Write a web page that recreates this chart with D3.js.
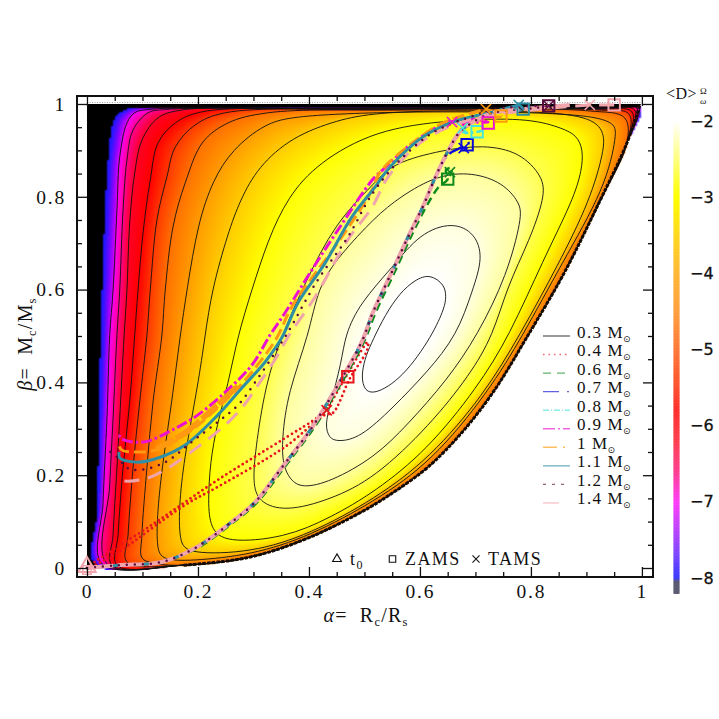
<!DOCTYPE html>
<html><head><meta charset="utf-8">
<style>html,body{margin:0;background:#fff}svg{display:block}text{fill:#111}</style>
<script src="https://cdn.jsdelivr.net/npm/d3@7/dist/d3.min.js"></script></head>
<body><script>
// ---------- axes / labels ----------
const xMajor=[0,0.2,0.4,0.6,0.8,1];
const yMajor=[0,0.2,0.4,0.6,0.8,1];
const minorTicks=[0.05,0.1,0.15,0.25,0.3,0.35,0.45,0.5,0.55,0.65,0.7,0.75,0.85,0.9,0.95];
const barTicks=[-2,-3,-4,-5,-6,-7,-8];
const massLabels=["0.3","0.4","0.6","0.7","0.8","0.9","1","1.1","1.2","1.4"];
const massColors=["#222222","#e8141c","#0f8a1c","#0a0ad8","#45e6dc","#ee10d0","#ff9a10","#2f8fa5","#5a0a3c","#f0a5ac"];
const legendDash=["","1.5 4","8 6","16 8 2 8","6 2 1 2","12 3 2 3","14 6 2 6","","3 6","16 20"];
// ---------- colour scale ----------
const stopValues=[-8.0,-7.5,-7.2,-6.9,-6.5,-6.0,-5.5,-5.0,-4.5,-4.0,-3.5,-3.0,-2.3,-2.0,-1.7,-1.5];
const stopColors=["#1818ff","#4a10ff","#a000ff","#ff00e8","#ff0090","#ff0028","#ff0000","#ff3800","#ff7000","#ff9c00","#ffcc00","#ffff00","#ffff50","#ffffa0","#ffffe0","#ffffff"];
const barValues=[-8.2,-8.05,-8.0,-7.6,-7.0,-6.6,-6.2,-5.8,-5.4,-5.0,-4.5,-4.0,-3.5,-3.0,-2.5,-2.0];
const barColors=["#5a5a70","#5a5a70","#3c3cff","#9048ff","#ff40f8","#ff4090","#ff4050","#ff3030","#ff5a30","#ff7a3a","#ffa040","#ffb838","#ffd820","#ffff00","#ffff80","#ffffff"];
// ---------- lower edge of the domain ----------
const rimAlpha=[0.973,0.919,0.860,0.795,0.732,0.672,0.613,0.551,0.492,0.389,0.288,0.173];
const rimBeta =[0.916,0.778,0.636,0.502,0.379,0.287,0.216,0.162,0.119,0.060,0.022,0.006];
// ---------- contour lines ----------
const levelM8A=[0.014,0.018,0.023,0.027,0.031,0.038,0.049,0.068,0.095,0.384,0.996];
const levelM8B=[0.009,0.121,0.431,0.599,0.728,0.879,0.966,0.987,0.991,0.994,0.996];
const levelM75A=[0.020,0.023,0.027,0.032,0.034,0.041,0.047,0.059,0.077,0.105,0.384,0.951,0.996];
const levelM75B=[0.009,0.142,0.323,0.502,0.599,0.793,0.901,0.970,0.987,0.991,0.993,0.995,0.996];
const levelM7A=[0.027,0.029,0.036,0.041,0.047,0.054,0.059,0.072,0.086,0.110,0.384,0.942,0.994];
const levelM7B=[0.009,0.142,0.323,0.502,0.599,0.772,0.886,0.959,0.981,0.988,0.991,0.993,0.994];
const levelM65A=[0.036,0.041,0.047,0.054,0.059,0.065,0.072,0.083,0.110,0.141,0.420,0.933,0.991];
const levelM65B=[0.009,0.179,0.323,0.502,0.599,0.772,0.879,0.944,0.981,0.988,0.990,0.991,0.991];
const levelM6A=[0.045,0.047,0.054,0.059,0.067,0.072,0.077,0.086,0.099,0.128,0.171,0.456,0.924,0.987];
const levelM6B=[0.006,0.071,0.216,0.323,0.502,0.599,0.744,0.851,0.922,0.970,0.987,0.989,0.990,0.987];
const levelM55A=[0.054,0.056,0.065,0.077,0.086,0.092,0.101,0.114,0.128,0.159,0.207,0.492,0.924,0.982];
const levelM55B=[0.006,0.071,0.216,0.358,0.502,0.599,0.722,0.836,0.916,0.959,0.983,0.989,0.989,0.983];
const levelM5A=[0.072,0.074,0.083,0.095,0.108,0.114,0.126,0.144,0.159,0.195,0.249,0.528,0.924,0.977];
const levelM5B=[0.013,0.071,0.216,0.358,0.502,0.599,0.750,0.843,0.907,0.955,0.981,0.988,0.987,0.978];
const levelM45A=[0.117,0.099,0.099,0.108,0.119,0.135,0.141,0.155,0.177,0.209,0.254,0.326,0.564,0.906,0.969];
const levelM45B=[0.011,0.022,0.071,0.216,0.358,0.502,0.599,0.735,0.830,0.918,0.959,0.981,0.987,0.985,0.970];
const levelM4A=[0.135,0.126,0.126,0.135,0.153,0.168,0.180,0.200,0.227,0.261,0.321,0.380,0.600,0.888,0.951,0.955,0.935,0.854,0.786,0.723,0.622,0.519,0.402,0.297,0.186];
const levelM4B=[0.017,0.043,0.108,0.216,0.358,0.502,0.599,0.744,0.836,0.901,0.959,0.976,0.985,0.981,0.961,0.937,0.821,0.653,0.502,0.379,0.230,0.144,0.069,0.028,0.015];
const levelM35A=[0.166,0.166,0.177,0.200,0.213,0.225,0.254,0.276,0.308,0.369,0.452,0.519,0.654,0.852,0.915,0.932,0.932,0.907,0.849,0.780,0.715,0.618,0.519,0.402,0.297,0.182];
const levelM35B=[0.056,0.142,0.250,0.394,0.502,0.599,0.722,0.793,0.864,0.929,0.966,0.981,0.987,0.983,0.966,0.937,0.901,0.793,0.653,0.502,0.373,0.237,0.149,0.073,0.033,0.030];
const levelM3A=[0.218,0.222,0.234,0.254,0.272,0.297,0.326,0.362,0.416,0.519,0.654,0.793,0.852,0.883,0.894,0.892,0.876,0.822,0.762,0.703,0.613,0.519,0.438,0.357,0.249,0.222];
const levelM3B=[0.142,0.228,0.308,0.394,0.502,0.599,0.707,0.800,0.873,0.944,0.966,0.970,0.950,0.933,0.901,0.858,0.793,0.664,0.502,0.388,0.254,0.164,0.108,0.065,0.054,0.086];
const levelM23A=[0.299,0.303,0.321,0.351,0.393,0.447,0.519,0.551,0.641,0.714,0.780,0.822,0.825,0.798,0.757,0.732,0.690,0.618,0.519,0.438,0.357,0.308];
const levelM23B=[0.185,0.250,0.394,0.502,0.614,0.744,0.830,0.873,0.901,0.912,0.897,0.843,0.800,0.707,0.606,0.502,0.416,0.308,0.194,0.147,0.121,0.142];
const levelM2A=[0.351,0.353,0.366,0.387,0.438,0.519,0.577,0.649,0.704,0.757,0.784,0.780,0.750,0.695,0.631,0.564,0.519,0.456,0.416,0.400,0.362];
const levelM2B=[0.276,0.222,0.190,0.172,0.185,0.239,0.308,0.405,0.502,0.631,0.756,0.787,0.830,0.853,0.847,0.800,0.756,0.675,0.606,0.502,0.379];
const levelM17A=[0.429,0.436,0.452,0.492,0.551,0.613,0.667,0.695,0.714,0.699,0.659,0.600,0.551,0.492,0.465,0.459,0.438];
const levelM17B=[0.308,0.280,0.272,0.280,0.345,0.422,0.502,0.599,0.670,0.722,0.746,0.722,0.649,0.571,0.502,0.444,0.351];
const levelM15A=[0.618,0.645,0.647,0.645,0.623,0.569,0.515,0.497,0.495,0.503,0.515,0.537,0.564,0.591];
const levelM15B=[0.634,0.610,0.584,0.563,0.502,0.409,0.371,0.388,0.422,0.459,0.491,0.545,0.593,0.621];
const contourLevels=[-8,-7.5,-7,-6.5,-6,-5.5,-5,-4.5,-4,-3.5,-3,-2.3,-2,-1.7,-1.5];
const contourHidden=[true,true];
// ---------- evolutionary tracks ----------
const risingAlpha=[0,0.056,0.135,0.195,0.254,0.303,0.351,0.405,0.452,0.495,0.515,0.551,0.582,0.605,0.627,0.650,0.672,0.703,0.732,0.804,0.870];
const risingBeta =[0,0.006,0.013,0.043,0.093,0.142,0.216,0.302,0.394,0.487,0.550,0.642,0.722,0.778,0.840,0.897,0.940,0.966,0.981,0.991,0.998];
const risingCount=[11,0,0,15,17,17,18,19,20,21];
const track04Alpha=[0,0.014,0.117,0.236,0.357,0.416,0.432,0.465,0.506,0.505,0.474,0.443,0.429,0.357,0.236,0.177,0.056,0.005];
const track04Beta =[0,0.013,0.093,0.190,0.280,0.325,0.343,0.409,0.487,0.470,0.409,0.334,0.330,0.261,0.175,0.136,0.034,0];
const track06Alpha=[0,0.056,0.135,0.199,0.258,0.307,0.355,0.409,0.456,0.499,0.520,0.556,0.587,0.611,0.633,0.650,0.647,0.658,0.654];
const track06Beta =[0,0.006,0.013,0.043,0.093,0.142,0.216,0.302,0.394,0.487,0.550,0.642,0.722,0.778,0.820,0.838,0.858,0.862,0.845];
const tail07Alpha=[0.650,0.676,0.690,0.681]; const tail07Beta=[0.890,0.907,0.916,0.901];
const tail08Alpha=[0.685,0.712,0.703];       const tail08Beta=[0.9375,0.942,0.940];
const tail09Alpha=[0.685,0.723,0.658];       const tail09Beta=[0.966,0.961,0.961];
const tail10Alpha=[0.746,0.719];             const tail10Beta=[0.974,0.989];
const tail11Alpha=[0.786,0.778];             const tail11Beta=[0.989,0.998];
const tail12Alpha=[0.832];                   const tail12Beta=[0.996];
const tail14Alpha=[0.950,0.906];             const tail14Beta=[0.998,0.998];
const upper09Alpha=[0.649,0.587,0.533,0.514,0.452,0.405,0.357,0.330,0.297,0.249,0.200,0.153,0.105,0.072,0.059,0.063];
const upper09Beta =[0.961,0.916,0.858,0.836,0.728,0.642,0.550,0.502,0.437,0.379,0.330,0.297,0.272,0.274,0.282,0.293];
const upper10Alpha=[0.719,0.641,0.587,0.528,0.514,0.459,0.369,0.342,0.297,0.254,0.177,0.123,0.086,0.063,0.056];
const upper10Beta =[0.989,0.959,0.916,0.853,0.815,0.713,0.5625,0.496,0.422,0.366,0.287,0.254,0.250,0.254,0.269];
const blob10Alpha=[0.125,0.177,0.254,0.272]; const blob10Beta=[0.256,0.292,0.372,0.392];
const upper11Alpha=[0.778,0.732,0.659,0.605,0.546,0.519,0.477,0.429,0.380,0.351,0.321,0.279,0.236,0.177,0.128,0.092,0.059,0.058];
const upper11Beta =[0.998,0.983,0.961,0.929,0.864,0.821,0.756,0.657,0.571,0.496,0.444,0.388,0.330,0.265,0.237,0.228,0.237,0.250];
const upper12Alpha=[0.832,0.750,0.690,0.623,0.564,0.515,0.470,0.416,0.357,0.308,0.272,0.236,0.189,0.141,0.092,0.072,0.056,0.032];
const upper12Beta =[0.996,0.991,0.972,0.938,0.879,0.808,0.713,0.621,0.498,0.409,0.351,0.315,0.272,0.228,0.211,0.216,0.237,0.259];
const upper14Alpha=[0.906,0.703,0.622,0.582,0.541,0.514,0.470,0.411,0.362,0.344,0.308,0.279,0.249,0.200,0.146,0.110,0.068,0.052];
const upper14Beta =[0.998,0.970,0.933,0.897,0.840,0.778,0.707,0.584,0.498,0.459,0.394,0.345,0.308,0.261,0.2155,0.194,0.1875,0.194];
// markers
const zamsAlpha=[0.470,0.650,0.685,0.703,0.723,0.746,0.786,0.832,0.950];
const zamsBeta =[0.412,0.838,0.912,0.940,0.959,0.974,0.989,0.996,0.998];
const tamsAlpha=[0.432,0.654,0.679,0.677,0.658,0.719,0.778,0.832,0.906];
const tamsBeta =[0.340,0.853,0.905,0.948,0.961,0.989,0.998,0.996,0.998];
const markerMass=[1,2,3,4,5,6,7,8,9]; // index into massColors

// ---------- layout ----------
const W=719,H=719;
const x=d3.scaleLinear().domain([-0.018,1.02]).range([77,653]);
const y=d3.scaleLinear().domain([-0.0194,1.0172]).range([577,96]);
const svg=d3.select("body").append("svg").attr("width",W).attr("height",H);
const color=d3.scaleLinear().domain(stopValues).range(stopColors).clamp(true);
const barColor=d3.scaleLinear().domain(barValues).range(barColors).clamp(true);
const line=d3.line().x(d=>x(d[0])).y(d=>y(d[1]));
const zip=(a,b)=>a.map((v,i)=>[v,b[i]]);
const rim=zip(rimAlpha,rimBeta);

// black domain behind the raster
svg.append("path").attr("fill","#000")
  .attr("d",line([[0,1],[0.998,1],[0.996,0.996],...rim,[0.08,0],[0,0]])+"Z");

// contours
const contourData=[
 [levelM8A,levelM8B,true],[levelM75A,levelM75B,true],[levelM7A,levelM7B,true],
 [levelM65A,levelM65B,true],[levelM6A,levelM6B,true],[levelM55A,levelM55B,true],
 [levelM5A,levelM5B,true],[levelM45A,levelM45B,true],[levelM4A,levelM4B,false],
 [levelM35A,levelM35B,false],[levelM3A,levelM3B,false],[levelM23A,levelM23B,false],
 [levelM2A,levelM2B,false],[levelM17A,levelM17B,false],[levelM15A,levelM15B,false]
].map(([a,b,useRim])=>({rimmed:useRim,pts:useRim?[...zip(a,b),...rim]:zip(a,b)}));
const closedOuter=d3.line().x(d=>x(d[0])).y(d=>y(d[1])).curve(d3.curveCatmullRomClosed.alpha(0.5));
const closedInner=d3.line().x(d=>x(d[0])).y(d=>y(d[1])).curve(d3.curveBasisClosed);

const imageSel=svg.append("image");
const contourG=svg.append("g").attr("fill","none").attr("stroke","#111").attr("stroke-width",0.9);
const contourPaths=contourData.map((c,i)=>contourG.append("path").attr("d",(c.rimmed?closedOuter:closedInner)(c.pts))
   .attr("stroke",contourHidden[i]?"none":"#111"));

// sample contours to dense rings and build a smooth raster between them
const rings=contourPaths.map(p=>{
  const n=p.node(),L=n.getTotalLength(),pts=[];
  for(let s=0;s<L;s+=3){const q=n.getPointAtLength(s);pts.push(q.x,q.y);}
  return Float64Array.from(pts);
});
function inside(r,px,py){let c=false;const n=r.length;
  for(let i=0,j=n-2;i<n;j=i,i+=2){const yi=r[i+1],yj=r[j+1];
    if((yi>py)!==(yj>py)&&px<(r[j]-r[i])*(py-yi)/(yj-yi)+r[i])c=!c;}
  return c;}
function dist(r,px,py){let m=1e18;for(let i=0;i<r.length;i+=2){const dx=r[i]-px,dy=r[i+1]-py,d=dx*dx+dy*dy;if(d<m)m=d;}return Math.sqrt(m);}
const step=2,x0=x(0),y0=y(1),cw=Math.ceil((x(1)-x(0))/step),ch=Math.ceil((y(0)-y(1))/step);
const canvas=document.createElement("canvas");canvas.width=cw;canvas.height=ch;
const ctx=canvas.getContext("2d"),img=ctx.createImageData(cw,ch);
const nL=contourLevels.length;let k=0;
for(let j=0;j<ch;j++){for(let i=0;i<cw;i++){
  const px=x0+(i+.5)*step,py=y0+(j+.5)*step;
  while(k>0&&!inside(rings[k-1],px,py))k--;
  while(k<nL&&inside(rings[k],px,py))k++;
  if(k===0)continue;
  let v;
  if(k===nL)v=contourLevels[nL-1]+0.1;
  else{const d0=dist(rings[k-1],px,py),d1=dist(rings[k],px,py);
    v=contourLevels[k-1]+(contourLevels[k]-contourLevels[k-1])*d0/(d0+d1);}
  const c=d3.rgb(color(v)),o=(j*cw+i)*4;
  img.data[o]=c.r;img.data[o+1]=c.g;img.data[o+2]=c.b;img.data[o+3]=255;
}}
ctx.putImageData(img,0,0);
imageSel.attr("href",canvas.toDataURL()).attr("x",x0).attr("y",y0)
  .attr("width",cw*step).attr("height",ch*step).attr("preserveAspectRatio","none");

// black band along the top and jagged lower edge
svg.append("path").attr("fill","#000").attr("d",line([[0,1],[0.998,1],[0.996,0.9925],[0,0.9925]])+"Z");
svg.append("path").attr("fill","none").attr("stroke","#999").attr("stroke-width",1).attr("stroke-dasharray","1 1.5")
  .attr("d",line([[0,1.003],[0.998,1.003]]));
svg.append("path").attr("fill","none").attr("stroke","#160c04").attr("stroke-width",3).attr("stroke-dasharray","3.5 1.2")
  .attr("d",d3.line().x(d=>x(d[0])).y(d=>y(d[1])).curve(d3.curveCatmullRom)([[0.996,0.996],...rim]));

// tracks
const smooth=d3.line().x(d=>x(d[0])).y(d=>y(d[1])).curve(d3.curveCatmullRom.alpha(0.5));
const rising=n=>zip(risingAlpha.slice(0,n),risingBeta.slice(0,n));
const trackSeries=[
 {m:0,pts:rising(risingCount[0]),w:1,dash:null},
 {m:1,pts:zip(track04Alpha,track04Beta),w:2.8,dash:"0 4.8",cap:"round"},
 {m:2,pts:zip(track06Alpha,track06Beta),w:2.5,dash:"8 5"},
 {m:3,pts:[...rising(risingCount[3]),...zip(tail07Alpha,tail07Beta)],w:2.6,dash:"16 5 2 5"},
 {m:4,pts:[...rising(risingCount[4]),...zip(tail08Alpha,tail08Beta)],w:2.6,dash:"9 3 2 3"},
 {m:5,pts:[...rising(risingCount[5]),...zip(tail09Alpha,tail09Beta),...zip(upper09Alpha,upper09Beta)],w:3,dash:"11 3 2.5 3"},
 {m:6,pts:[...rising(risingCount[6]),...zip(tail10Alpha,tail10Beta),...zip(upper10Alpha,upper10Beta)],w:3,dash:"12 5"},
 {m:7,pts:[...rising(risingCount[7]),...zip(tail11Alpha,tail11Beta),...zip(upper11Alpha,upper11Beta)],w:3,dash:null},
 {m:9,pts:rising(risingCount[9]),w:4,dash:"26 5"},
 {m:9,pts:[...zip(tail14Alpha,tail14Beta),...zip(upper14Alpha,upper14Beta)],w:3,dash:"15 9"},
 {m:8,pts:[...rising(risingCount[8]),...zip(tail12Alpha,tail12Beta),...zip(upper12Alpha,upper12Beta)],w:2.5,dash:"0 8",cap:"round"}
];
const tracksG=svg.append("g").attr("fill","none");
tracksG.selectAll("path").data(trackSeries).join("path")
  .attr("d",d=>smooth(d.pts)).attr("stroke",d=>massColors[d.m]).attr("stroke-width",d=>d.w)
  .attr("stroke-dasharray",d=>d.dash).attr("stroke-linecap",d=>d.cap||"butt").attr("stroke-linejoin","round");
tracksG.append("path").attr("d",smooth(zip(blob10Alpha,blob10Beta)))
  .attr("stroke",massColors[6]).attr("stroke-width",5.5).attr("stroke-dasharray","20 2 30 3");

// markers
const markG=svg.append("g").attr("fill","none").attr("stroke-width",2);
const sq=d3.symbol().type(d3.symbolSquare).size(130)();
const cr=d3.symbol().type(d3.symbolTimes).size(70)();
markG.selectAll(".z").data(zamsAlpha).join("path").attr("class","z").attr("d",sq)
  .attr("transform",(d,i)=>`translate(${x(d)},${y(zamsBeta[i])})`).attr("stroke",(d,i)=>massColors[markerMass[i]]);
markG.selectAll(".t").data(tamsAlpha).join("path").attr("class","t").attr("d",cr).attr("stroke-width",1.6)
  .attr("transform",(d,i)=>`translate(${x(d)},${y(tamsBeta[i])})`).attr("stroke",(d,i)=>massColors[markerMass[i]]);
markG.append("path").attr("d",d3.symbol().type(d3.symbolTriangle).size(130)())
  .attr("transform",`translate(${x(0)},${y(0)-1})`).attr("stroke",massColors[9]);
markG.append("path").attr("d",d3.symbol().type(d3.symbolSquare).size(70)())
  .attr("transform",`translate(${x(0)},${y(0)+2})`).attr("stroke",massColors[9]).attr("stroke-width",1.5);

// frame and axes
const labelFont="'Liberation Serif',serif";
function styleAxis(g,size){g.select(".domain").remove();
  g.selectAll(".tick line").attr("stroke","#111").attr("stroke-width",1.3);
  g.selectAll("text").attr("font-family",labelFont).attr("font-size",size).attr("letter-spacing",1.8).attr("fill","#111");}
const fmt=d=>String(d);
const addAxis=(gen,tx,ty,vals,len,pad)=>{const g=svg.append("g").attr("transform",`translate(${tx},${ty})`)
  .call(gen.tickValues(vals).tickSize(-len).tickPadding(pad||0).tickFormat(pad?fmt:""));styleAxis(g,19.5);return g;};
addAxis(d3.axisBottom(x),0,577,xMajor,10,7);
addAxis(d3.axisBottom(x),0,577,minorTicks,5,0);
addAxis(d3.axisTop(x),0,96,xMajor,10,0);
addAxis(d3.axisTop(x),0,96,minorTicks,5,0);
addAxis(d3.axisLeft(y),77,0,yMajor,10,11);
addAxis(d3.axisLeft(y),77,0,minorTicks,5,0);
addAxis(d3.axisRight(y),653,0,yMajor,10,0);
addAxis(d3.axisRight(y),653,0,minorTicks,5,0);
svg.append("rect").attr("x",77).attr("y",96).attr("width",576).attr("height",481)
  .attr("fill","none").attr("stroke","#111").attr("stroke-width",2);

// axis titles
const title=(sel,sym,a,b,c)=>{
  sel.attr("font-family",labelFont).attr("font-size",20).attr("letter-spacing",1.2);
  sel.append("tspan").attr("font-style","italic").text(sym);
  sel.append("tspan").text("= ");
  sel.append("tspan").attr("dx",6).text(a);
  sel.append("tspan").attr("dy",4).attr("font-size",12.5).text(b);
  sel.append("tspan").attr("dy",-4).text("/"+a);
  sel.append("tspan").attr("dy",4).attr("font-size",12.5).text(c);
};
title(svg.append("text").attr("x",366).attr("y",622).attr("text-anchor","middle"),"α","R","c","s");
title(svg.append("text").attr("transform","translate(32,344) rotate(-90)").attr("text-anchor","middle"),"β","M","c","s");

// mass legend
const legG=svg.append("g");
const legendY=i=>336+i*18.55;
massLabels.forEach((m,i)=>{
  legG.append("line").attr("x1",543).attr("x2",570).attr("y1",legendY(i)).attr("y2",legendY(i))
    .attr("stroke",massColors[i]).attr("stroke-width",1.4).attr("stroke-opacity",0.65).attr("stroke-dasharray",legendDash[i]||null);
  const t=legG.append("text").attr("x",577).attr("y",legendY(i)+1.5)
    .attr("font-family",labelFont).attr("font-size",17).attr("letter-spacing",1.4);
  t.append("tspan").text(m);
  t.append("tspan").attr("dx",5).text("M");
  t.append("tspan").attr("dy",4).attr("dx",-1).attr("font-family","'DejaVu Sans'").attr("font-size",9).text("⊙");
});

// symbol legend
const symG=svg.append("g").attr("fill","none").attr("stroke","#111").attr("stroke-width",1.1);
symG.append("path").attr("d",d3.symbol().type(d3.symbolTriangle).size(34)()).attr("transform","translate(337,559)");
symG.append("path").attr("d",d3.symbol().type(d3.symbolSquare).size(42)()).attr("transform","translate(392.5,559)");
symG.append("path").attr("d",d3.symbol().type(d3.symbolTimes).size(34)()).attr("transform","translate(476,559)");
const sy=svg.append("g").attr("font-family",labelFont).attr("font-size",18).attr("letter-spacing",1.4);
const t0=sy.append("text").attr("x",350).attr("y",565);
t0.append("tspan").text("t");
t0.append("tspan").attr("dy",4).attr("font-size",12).text("0");
sy.append("text").attr("x",405).attr("y",565).text("ZAMS");
sy.append("text").attr("x",488).attr("y",565).text("TAMS");

// colour bar
const cy=d3.scaleLinear().domain([-2,-8]).range([121,578]);
const barSteps=d3.range(-8.2,-1.95,0.02);
svg.append("g").selectAll("rect").data(barSteps).join("rect")
  .attr("x",673.5).attr("width",6).attr("y",d=>cy(d)-1.5).attr("height",2.2).attr("fill",d=>barColor(d));
const barAxis=svg.append("g").attr("transform","translate(685,0)")
  .call(d3.axisRight(cy).tickValues(barTicks).tickSize(0).tickPadding(5).tickFormat(d3.format("d")));
barAxis.select(".domain").remove();
barAxis.selectAll("text").attr("font-family","'DejaVu Sans'").attr("font-size",16).attr("fill","#111").attr("stroke","#111").attr("stroke-width",0.3);
const bt=svg.append("text").attr("x",666).attr("y",99).attr("font-family",labelFont).attr("font-size",16).attr("fill","#555");
bt.append("tspan").attr("letter-spacing",0.5).text("<D>");
svg.append("text").attr("x",700).attr("y",94).attr("font-family",labelFont).attr("font-size",9).text("Ω").attr("fill","#444");
svg.append("text").attr("x",700).attr("y",104).attr("font-family",labelFont).attr("font-size",9).attr("font-style","italic").text("ω").attr("fill","#444");
</script></body></html>
